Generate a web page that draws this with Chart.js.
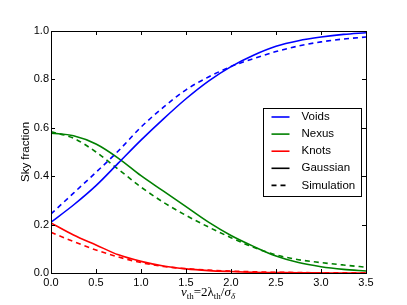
<!DOCTYPE html>
<html>
<head>
<meta charset="utf-8">
<script src="https://cdn.jsdelivr.net/npm/chart.js@4"></script>
<style>
  html, body { margin: 0; padding: 0; background: #fff; }
  #wrap { position: relative; width: 407px; height: 305px; }
  #xlabel {
    position: absolute; left: 0; width: 416px; top: 284px; text-align: center;
    font-family: "Liberation Serif", "DejaVu Serif", serif; font-size: 13px; color: #000;
  }
  #xlabel i { font-style: italic; }
  #xlabel sub { font-size: 9px; vertical-align: -3px; }
</style>
</head>
<body>
<div id="wrap">
  <canvas id="grafico" width="407" height="305"></canvas>
  <div id="xlabel"><i>ν</i><sub>th</sub>=2λ<sub>th</sub>/<i>σ</i><sub><i>δ</i></sub></div>
</div>
<script>
// valores
const nu = [0, 0.25, 0.5, 0.75, 1.0, 1.25, 1.5, 1.75, 2.0, 2.25, 2.5, 2.75, 3.0, 3.25, 3.5];
const voidsGauss = [0.21, 0.281, 0.361, 0.455, 0.549, 0.637, 0.72, 0.793, 0.853, 0.90, 0.937, 0.96, 0.975, 0.986, 0.993];
const voidsSim   = [0.244, 0.33, 0.416, 0.505, 0.603, 0.685, 0.757, 0.81, 0.853, 0.886, 0.915, 0.938, 0.955, 0.967, 0.975];
const nexusGauss = [0.578, 0.567, 0.533, 0.474, 0.402, 0.338, 0.274, 0.21, 0.155, 0.11, 0.07, 0.043, 0.026, 0.015, 0.008];
const nexusSim   = [0.584, 0.557, 0.50, 0.428, 0.355, 0.292, 0.238, 0.19, 0.146, 0.106, 0.075, 0.055, 0.043, 0.033, 0.024];
const knotsGauss = [0.207, 0.157, 0.116, 0.075, 0.048, 0.029, 0.017, 0.01, 0.006, 0.003, 0.002, 0.001, 0.0005, 0, 0];
const knotsSim   = [0.168, 0.13, 0.095, 0.066, 0.043, 0.027, 0.018, 0.012, 0.008, 0.005, 0.003, 0.002, 0.001, 0.001, 0];

const xTicks = [0, 0.5, 1.0, 1.5, 2.0, 2.5, 3.0, 3.5];
const yTicks = [0, 0.2, 0.4, 0.6, 0.8, 1.0];
const legendNames = ['Voids', 'Nexus', 'Knots', 'Gaussian', 'Simulation'];
const colores = ['#0000ff', '#008000', '#ff0000', '#000000', '#000000'];
const dash = [5, 4];

const FONT = '"Liberation Sans", Arial, sans-serif';

function serie(ys, color, dashed) {
  return {
    data: nu.map((x, i) => ({ x: x, y: ys[i] })),
    borderColor: color,
    borderWidth: 1.6,
    borderDash: dashed ? dash : [],
    pointRadius: 0,
    fill: false,
    cubicInterpolationMode: 'monotone'
  };
}

// marco, ticks hacia dentro y leyenda
const extras = {
  id: 'extras',
  afterDraw(chart) {
    const ctx = chart.ctx;
    const a = chart.chartArea;
    const sx = chart.scales.x, sy = chart.scales.y;
    ctx.save();
    ctx.strokeStyle = '#000';
    ctx.lineWidth = 1;
    ctx.strokeRect(Math.round(a.left) + 0.5, Math.round(a.top) + 0.5, Math.round(a.right - a.left), Math.round(a.bottom - a.top));
    ctx.beginPath();
    xTicks.forEach(t => {
      const px = Math.round(sx.getPixelForValue(t)) + 0.5;
      ctx.moveTo(px, a.bottom); ctx.lineTo(px, a.bottom - 4);
      ctx.moveTo(px, a.top); ctx.lineTo(px, a.top + 4);
    });
    yTicks.forEach(t => {
      const py = Math.round(sy.getPixelForValue(t)) + 0.5;
      ctx.moveTo(a.left, py); ctx.lineTo(a.left + 4, py);
      ctx.moveTo(a.right, py); ctx.lineTo(a.right - 4, py);
    });
    ctx.stroke();

    // leyenda
    const x0 = 263.5, y0 = 108.5, w = 98, h = 88;
    ctx.fillStyle = '#fff';
    ctx.fillRect(x0, y0, w, h);
    ctx.strokeRect(x0, y0, w, h);
    ctx.font = '11.5px ' + FONT;
    ctx.textBaseline = 'middle';
    legendNames.forEach((n, i) => {
      const yy = y0 + 8.5 + i * 17.1;
      ctx.strokeStyle = colores[i];
      ctx.lineWidth = 1.6;
      ctx.setLineDash(i === 4 ? dash : []);
      ctx.beginPath();
      ctx.moveTo(x0 + 8, yy); ctx.lineTo(x0 + 26, yy);
      ctx.stroke();
      ctx.setLineDash([]);
      ctx.fillStyle = '#000';
      ctx.fillText(n, x0 + 38, yy);
    });
    ctx.restore();
  }
};

new Chart(document.getElementById('grafico'), {
  type: 'line',
  data: {
    datasets: [
      serie(voidsGauss, colores[0], false),
      serie(voidsSim, colores[0], true),
      serie(nexusGauss, colores[1], false),
      serie(nexusSim, colores[1], true),
      serie(knotsGauss, colores[2], false),
      serie(knotsSim, colores[2], true)
    ]
  },
  options: {
    responsive: false,
    animation: false,
    layout: { padding: { top: 31, right: 41, left: 0, bottom: 0 } },
    plugins: { legend: { display: false }, tooltip: { enabled: false } },
    scales: {
      x: {
        type: 'linear', min: 0, max: 3.5,
        afterFit: s => { s.height = 32; },
        afterBuildTicks: s => { s.ticks = xTicks.map(v => ({ value: v })); },
        grid: { display: false, drawTicks: false },
        border: { display: false },
        ticks: { padding: 3, color: '#000', font: { family: FONT, size: 11 }, maxRotation: 0, callback: v => v.toFixed(1) }
      },
      y: {
        min: 0, max: 1,
        afterFit: s => { s.width = 51; },
        afterBuildTicks: s => { s.ticks = yTicks.map(v => ({ value: v })); },
        grid: { display: false, drawTicks: false },
        border: { display: false },
        title: { display: true, text: 'Sky fraction', color: '#000', font: { family: FONT, size: 11.5 }, padding: { top: 19, bottom: 0 } },
        ticks: { padding: 2, color: '#000', font: { family: FONT, size: 11 }, callback: v => v.toFixed(1) }
      }
    }
  },
  plugins: [extras]
});
</script>
</body>
</html>
